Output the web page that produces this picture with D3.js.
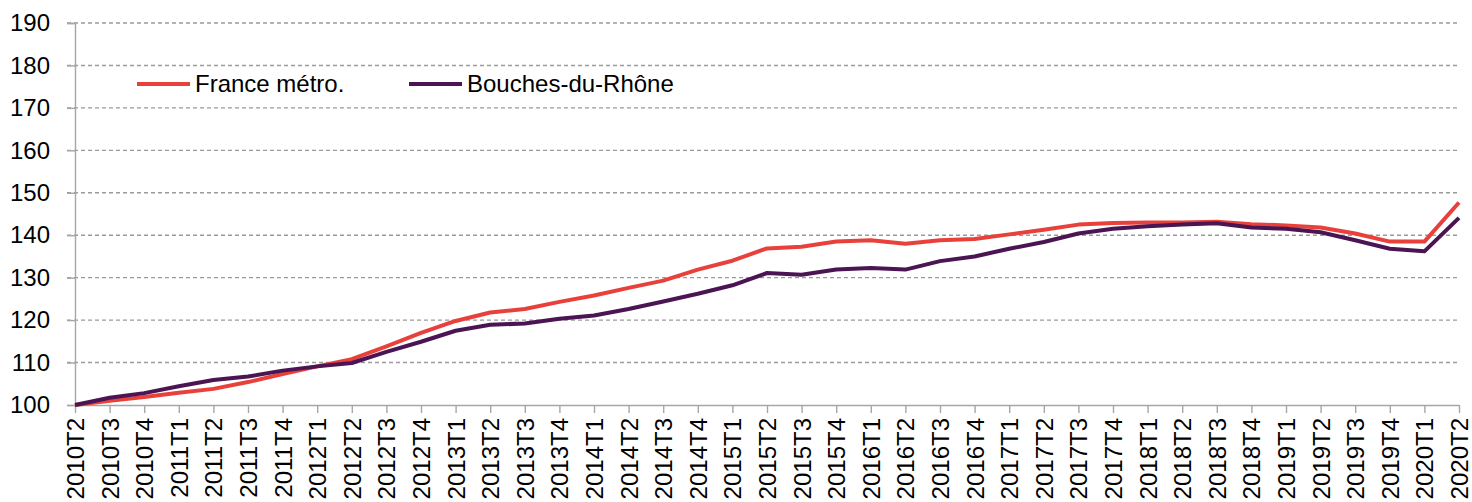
<!DOCTYPE html>
<html>
<head>
<meta charset="utf-8">
<script src="https://cdn.jsdelivr.net/npm/d3@7"></script>
<style>
  body { margin: 0; background: #fff; }
  svg { display: block; font-family: "Liberation Sans", Arial, sans-serif; }
</style>
</head>
<body>
<div id="chart"></div>
<script>
// quarters 2010T2 .. 2020T2
var quarters = [];
for (var yr = 2010; yr <= 2020; yr++) {
  for (var q = 1; q <= 4; q++) {
    if (yr === 2010 && q < 2) continue;
    if (yr === 2020 && q > 2) continue;
    quarters.push(yr + "T" + q);
  }
}

var franceValues = [100, 101.0, 101.9, 102.9, 103.8, 105.4, 107.3, 109.1, 110.8, 113.8,
  117.0, 119.8, 121.8, 122.6, 124.3, 125.8, 127.6, 129.3, 131.9, 134.0,
  136.9, 137.3, 138.5, 138.8, 138.0, 138.8, 139.1, 140.2, 141.3, 142.5,
  142.9, 143.0, 143.0, 143.2, 142.6, 142.3, 141.8, 140.4, 138.5, 138.5, 147.7];

var bdrValues = [100, 101.7, 102.8, 104.4, 105.9, 106.7, 108.1, 109.1, 109.9, 112.5,
  114.9, 117.5, 118.9, 119.2, 120.3, 121.1, 122.6, 124.4, 126.2, 128.2,
  131.1, 130.7, 131.9, 132.3, 131.9, 133.9, 135.0, 136.8, 138.4, 140.4,
  141.5, 142.1, 142.5, 142.8, 141.8, 141.5, 140.7, 138.8, 136.8, 136.2, 144.1];

var yTicks = [100, 110, 120, 130, 140, 150, 160, 170, 180, 190];

var seriesNames = ["France métro.", "Bouches-du-Rhône"];
var seriesColors = ["#E8413C", "#4A1552"];

var svgWidth = 1472, svgHeight = 502;
var margin = { top: 23, right: 13, bottom: 97, left: 75 };
var width = svgWidth - margin.left - margin.right;
var height = svgHeight - margin.top - margin.bottom;

var svg = d3.select("#chart").append("svg")
  .attr("width", svgWidth)
  .attr("height", svgHeight);

var g = svg.append("g")
  .attr("transform", `translate(${margin.left}, ${margin.top})`);

var x = d3.scalePoint().domain(quarters).range([0, width]);
var y = d3.scaleLinear().domain([100, 190]).range([height, 0]);

// dashed grid
g.append("g").selectAll("line")
  .data(yTicks.filter(d => d !== 100))
  .enter().append("line")
  .attr("x1", -8)
  .attr("x2", width)
  .attr("y1", d => y(d))
  .attr("y2", d => y(d))
  .attr("stroke", "#9A9A9A")
  .attr("stroke-width", 1.4)
  .attr("stroke-dasharray", "4,3");

// y axis
var yAxis = g.append("g")
  .call(d3.axisLeft(y).tickValues(yTicks).tickSize(8).tickPadding(17));
yAxis.select(".domain").attr("stroke", "#A6A6A6").attr("stroke-width", 1.4);
yAxis.selectAll(".tick line").attr("stroke", "#A6A6A6").attr("stroke-width", 1.4);
yAxis.selectAll("text").attr("font-size", "24px").attr("fill", "#000")
  .attr("font-family", "Liberation Sans, Arial, sans-serif");

// x axis
var xAxis = g.append("g")
  .attr("transform", `translate(0, ${height})`)
  .call(d3.axisBottom(x).tickSize(8).tickSizeOuter(0));
xAxis.select(".domain").attr("stroke", "#A6A6A6").attr("stroke-width", 1.4);
xAxis.selectAll(".tick line").attr("stroke", "#A6A6A6").attr("stroke-width", 1.4);
xAxis.selectAll("text")
  .attr("font-size", "24px")
  .attr("fill", "#000")
  .attr("font-family", "Liberation Sans, Arial, sans-serif")
  .attr("transform", "rotate(-90)")
  .attr("text-anchor", "end")
  .attr("x", -13)
  .attr("y", 0)
  .attr("dy", "0.35em");

// lines
var line = d3.line()
  .x((d, i) => x(quarters[i]))
  .y(d => y(d));

[franceValues, bdrValues].forEach(function(vals, i) {
  g.append("path")
    .datum(vals)
    .attr("fill", "none")
    .attr("stroke", seriesColors[i])
    .attr("stroke-width", 4)
    .attr("stroke-linejoin", "round")
    .attr("d", line);
});

// legend
var legendX = [137, 409];
seriesNames.forEach(function(name, i) {
  var lg = svg.append("g").attr("transform", `translate(${legendX[i]}, 84)`);
  lg.append("line")
    .attr("x1", 0).attr("x2", 53)
    .attr("y1", 0).attr("y2", 0)
    .attr("stroke", seriesColors[i])
    .attr("stroke-width", 4);
  lg.append("text")
    .attr("x", 58)
    .attr("y", 0)
    .attr("dy", "0.35em")
    .attr("font-size", "24px")
    .attr("fill", "#000")
    .text(name);
});
</script>
</body>
</html>
